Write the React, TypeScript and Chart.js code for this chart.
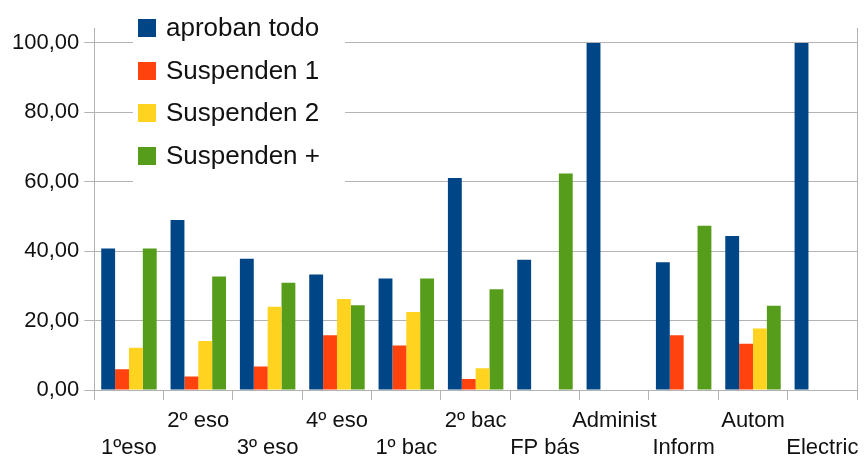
import React, { useEffect, useRef } from "react";
import { Chart, registerables } from "chart.js";

Chart.register(...registerables);

const categories = ["1ºeso", "2º eso", "3º eso", "4º eso", "1º bac", "2º bac", "FP bás", "Administ", "Inform", "Autom", "Electric"];
const seriesNames = ["aproban todo", "Suspenden 1", "Suspenden 2", "Suspenden +"];
const aprobanTodo = [40.8, 49.0, 37.8, 33.3, 32.1, 61.1, 37.5, 100, 36.8, 44.4, 100];
const suspenden1 = [6.0, 3.9, 6.8, 15.8, 12.8, 3.2, 0, 0, 15.8, 13.3, 0];
const suspenden2 = [12.2, 14.1, 24.0, 26.2, 22.5, 6.3, 0, 0, 0, 17.7, 0];
const suspendenMas = [40.8, 32.7, 30.9, 24.4, 32.1, 29.0, 62.4, 0, 47.3, 24.3, 0];
const yTicks = [0, 20, 40, 60, 80, 100];
const colors = ["#004586", "#ff420e", "#ffd320", "#579d1c"];

const FONT = "'Liberation Sans', Arial, sans-serif";
const GRID = "#b3b3b3";

const legendPlugin = {
  id: "customLegend",
  afterDraw(chart: any) {
    const ctx = chart.ctx;
    ctx.save();
    ctx.fillStyle = "#ffffff";
    ctx.fillRect(133, 4, 212, 186);
    ctx.font = `26px ${FONT}`;
    ctx.textBaseline = "middle";
    ctx.textAlign = "left";
    const rows = [28, 71, 113, 156];
    seriesNames.forEach((name, i) => {
      ctx.fillStyle = colors[i];
      ctx.fillRect(138, rows[i] - 9, 18, 18);
      ctx.fillStyle = "#111111";
      ctx.fillText(name, 166, rows[i] + 1);
    });
    ctx.restore();
  },
};

const borderPlugin = {
  id: "rightBorder",
  afterDraw(chart: any) {
    const { ctx, chartArea } = chart;
    ctx.save();
    ctx.strokeStyle = GRID;
    ctx.lineWidth = 1;
    ctx.beginPath();
    ctx.moveTo(Math.round(chartArea.right) + 0.5, chartArea.top);
    ctx.lineTo(Math.round(chartArea.right) + 0.5, chartArea.bottom);
    ctx.stroke();
    ctx.restore();
  },
};

export default function App() {
  const ref = useRef<HTMLCanvasElement>(null);
  useEffect(() => {
    if (!ref.current) return;
    const data = [aprobanTodo, suspenden1, suspenden2, suspendenMas];
    const chart = new Chart(ref.current, {
      type: "bar",
      data: {
        labels: categories,
        datasets: seriesNames.map((name, i) => ({
          label: name,
          data: data[i],
          backgroundColor: colors[i],
          borderWidth: 0,
          categoryPercentage: 0.8,
          barPercentage: 1.0,
        })),
      },
      options: {
        animation: false,
        responsive: true,
        maintainAspectRatio: false,
        layout: { padding: { left: 7, right: 8, top: 28, bottom: 0 } },
        plugins: { legend: { display: false }, tooltip: { enabled: false } },
        scales: {
          x: {
            offset: true,
            afterFit: (s: any) => {
              s.height = 70;
              s.paddingLeft = 0;
              s.paddingRight = 0;
            },
            grid: { offset: true, drawOnChartArea: false, tickLength: 10, color: GRID },
            border: { color: GRID },
            ticks: {
              autoSkip: false,
              maxRotation: 0,
              minRotation: 0,
              padding: 8,
              color: "#111111",
              font: { family: FONT, size: 22, lineHeight: 1.22 },
              callback: (_v: any, i: number) => (i % 2 === 0 ? ["", categories[i]] : [categories[i], ""]),
            },
          },
          y: {
            min: 0,
            max: 104.3,
            afterBuildTicks: (s: any) => {
              s.ticks = yTicks.map((v) => ({ value: v }));
            },
            grid: { color: GRID, tickLength: 10 },
            border: { color: GRID },
            ticks: {
              padding: 5,
              color: "#111111",
              font: { family: FONT, size: 22 },
              callback: (v: any) => Number(v).toFixed(2).replace(".", ","),
            },
          },
        },
      },
      plugins: [borderPlugin, legendPlugin],
    });
    return () => chart.destroy();
  }, []);
  return (
    <div style={{ position: "absolute", left: 0, top: 0, width: 865, height: 460, background: "#fff" }}>
      <canvas ref={ref} />
    </div>
  );
}
